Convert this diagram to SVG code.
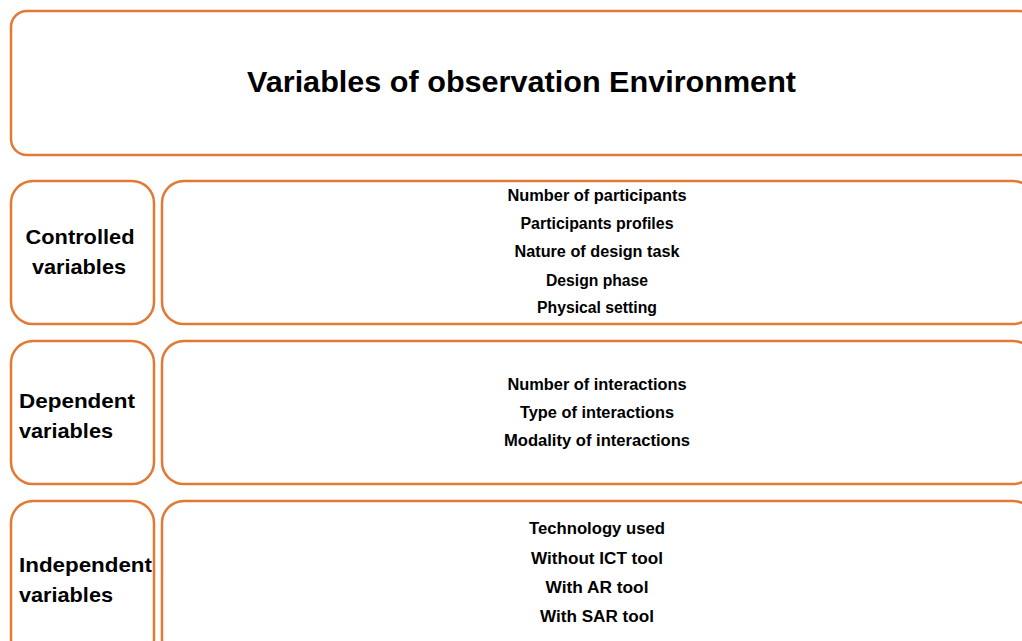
<svg xmlns="http://www.w3.org/2000/svg" width="1022" height="641" viewBox="0 0 1022 641">
<style>
.box{fill:#fff;stroke:#E27934;stroke-width:2.5}
.t{font-family:"Liberation Sans",Arial,sans-serif;font-weight:bold;fill:#000}
.title{font-size:29px}
.lab{font-size:21px}
.item{font-size:16px;text-anchor:middle}
</style>
<rect width="1022" height="641" fill="#fff"/>
<g id="title">
<rect class="box" x="11" y="11" width="1024" height="144" rx="16"/>
<text class="t title" x="247" y="92" textLength="549" lengthAdjust="spacingAndGlyphs">Variables of observation Environment</text>
</g>
<g id="controlled-label">
<rect class="box" x="11" y="181" width="143" height="143" rx="22"/>
<text class="t lab" x="80" y="244" text-anchor="middle" textLength="109" lengthAdjust="spacingAndGlyphs">Controlled</text>
<text class="t lab" x="79" y="274" text-anchor="middle" textLength="94" lengthAdjust="spacingAndGlyphs">variables</text>
</g>
<g id="controlled-items">
<rect class="box" x="162" y="181" width="873" height="143" rx="22"/>
<text class="t item" x="597" y="201" textLength="179" lengthAdjust="spacingAndGlyphs">Number of participants</text>
<text class="t item" x="597" y="229" textLength="153" lengthAdjust="spacingAndGlyphs">Participants profiles</text>
<text class="t item" x="597" y="257" textLength="165" lengthAdjust="spacingAndGlyphs">Nature of design task</text>
<text class="t item" x="597" y="286" textLength="102" lengthAdjust="spacingAndGlyphs">Design phase</text>
<text class="t item" x="597" y="313" textLength="120" lengthAdjust="spacingAndGlyphs">Physical setting</text>
</g>
<g id="dependent-label">
<rect class="box" x="11" y="341" width="143" height="143" rx="22"/>
<text class="t lab" x="19" y="408" textLength="116" lengthAdjust="spacingAndGlyphs">Dependent</text>
<text class="t lab" x="19" y="438" textLength="94" lengthAdjust="spacingAndGlyphs">variables</text>
</g>
<g id="dependent-items">
<rect class="box" x="162" y="341" width="873" height="143" rx="22"/>
<text class="t item" x="597" y="390" textLength="179" lengthAdjust="spacingAndGlyphs">Number of interactions</text>
<text class="t item" x="597" y="418" textLength="154" lengthAdjust="spacingAndGlyphs">Type of interactions</text>
<text class="t item" x="597" y="446" textLength="186" lengthAdjust="spacingAndGlyphs">Modality of interactions</text>
</g>
<g id="independent-label">
<rect class="box" x="11" y="501" width="143" height="160" rx="22"/>
<text class="t lab" x="19" y="572" textLength="133" lengthAdjust="spacingAndGlyphs">Independent</text>
<text class="t lab" x="19" y="602" textLength="94" lengthAdjust="spacingAndGlyphs">variables</text>
</g>
<g id="independent-items">
<rect class="box" x="162" y="501" width="873" height="160" rx="22"/>
<text class="t item" x="597" y="534" textLength="136" lengthAdjust="spacingAndGlyphs">Technology used</text>
<text class="t item" x="597" y="564" textLength="132" lengthAdjust="spacingAndGlyphs">Without ICT tool</text>
<text class="t item" x="597" y="593" textLength="103" lengthAdjust="spacingAndGlyphs">With AR tool</text>
<text class="t item" x="597" y="622" textLength="114" lengthAdjust="spacingAndGlyphs">With SAR tool</text>
</g>
<g id="connectors"></g>
</svg>
